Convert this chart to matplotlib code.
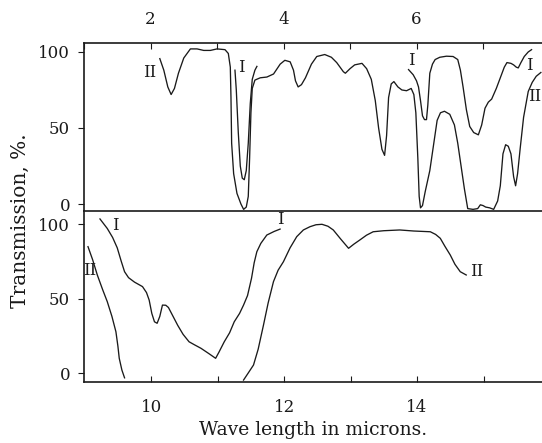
import numpy as np
import matplotlib.pyplot as plt

plt.rcParams["font.family"] = ["DejaVu Serif"]

# ---- top panel (2 - 8 microns) ----
top_II_x = [2.14, 2.20, 2.26, 2.31, 2.36, 2.42, 2.50, 2.60, 2.70, 2.80, 2.90,
            3.00, 3.12, 3.17, 3.20, 3.21, 3.22, 3.25, 3.30, 3.36, 3.40, 3.44,
            3.47, 3.49, 3.51, 3.53, 3.57, 3.65, 3.75, 3.85, 3.95, 4.02, 4.10,
            4.15, 4.18, 4.22, 4.27, 4.33, 4.42, 4.50, 4.62, 4.72, 4.80, 4.90,
            4.93, 5.00, 5.07, 5.18, 5.25, 5.32, 5.38, 5.43, 5.48, 5.52, 5.55,
            5.58, 5.62, 5.66, 5.72, 5.78, 5.85, 5.92, 5.96, 5.99, 6.02, 6.04,
            6.06, 6.09, 6.13, 6.20, 6.26, 6.31, 6.36, 6.42, 6.50, 6.57, 6.62,
            6.67, 6.72, 6.77, 6.85, 6.92, 6.96, 7.00, 7.04, 7.10, 7.16, 7.22,
            7.26, 7.30, 7.34, 7.38, 7.42, 7.46, 7.49, 7.52, 7.56, 7.61, 7.68,
            7.74, 7.80, 7.87]
top_II_y = [95.6, 88, 77, 72, 76, 86, 96, 102, 102, 101, 101,
            102, 101.5, 99, 90, 70, 40, 20, 7, 0, -3.5, -2,
            5, 30, 60, 76, 81.5, 83, 83.5, 85.5, 92, 94.5, 93.5,
            88, 81, 77, 78.5, 83, 92, 97, 98.3, 96.5, 93, 87,
            86, 89, 91.5, 92.5, 89, 82, 68, 50, 36, 32, 45,
            70, 79, 80.5, 77, 75, 74.5, 76, 72, 60, 30, 5,
            -2.5, -1, 8, 22, 40, 55, 60, 61, 59, 52, 40,
            25, 10, -3, -3.5, -3, -0.5, -1, -2, -2.5, -3.5, 2,
            12, 33, 39, 38, 33, 18, 12, 20, 37, 57, 74,
            80, 84, 86.5]

top_Ia_x = [3.27, 3.29, 3.32, 3.35, 3.38, 3.41, 3.44, 3.47, 3.50, 3.53, 3.57, 3.60]
top_Ia_y = [88, 75, 47, 25, 17, 16, 22, 40, 66, 82, 88, 90.5]

top_Ib_x = [5.88, 5.95, 6.00, 6.03, 6.06, 6.09, 6.12, 6.15, 6.17, 6.20, 6.24,
            6.28, 6.35, 6.45, 6.55, 6.62, 6.66, 6.70, 6.75, 6.80, 6.86, 6.93,
            6.98, 7.03, 7.08, 7.13, 7.20, 7.26, 7.32, 7.36, 7.42, 7.46, 7.50,
            7.53, 7.57, 7.62, 7.68, 7.73]
top_Ib_y = [88.4, 85, 81, 77, 68, 58, 55.5, 55.5, 65, 86, 92,
            95, 96.5, 97.2, 97, 95, 88, 77, 62, 51, 47, 45.5,
            52, 63, 67, 69, 76, 83, 90, 93, 92.5, 91.5, 90,
            89.5, 93, 97, 100, 101.5]

# ---- bottom panel (9 - 16 microns) ----
bot_I_x = [9.23, 9.34, 9.42, 9.49, 9.55, 9.60, 9.66, 9.75, 9.87, 9.93, 9.97,
           10.01, 10.05, 10.09, 10.13, 10.17, 10.22, 10.26, 10.33, 10.40, 10.48,
           10.57, 10.65, 10.75, 10.87, 10.97, 11.02, 11.10, 11.18, 11.25, 11.33,
           11.39, 11.45, 11.51, 11.55, 11.59, 11.65, 11.74, 11.85, 11.94]
bot_I_y = [103.4, 97, 91, 84, 75, 68, 64, 61, 58, 54, 49,
           40, 34.4, 33.4, 38, 45.6, 45.5, 44, 38, 32, 26,
           21, 19, 16.6, 13, 9.9, 14, 21, 27, 34.4, 40,
           45.6, 52, 63.6, 74, 81.4, 87, 92.6, 95, 96.6]

bot_IIa_x = [9.05, 9.12, 9.19, 9.27, 9.34, 9.41, 9.47, 9.50, 9.52, 9.56, 9.60]
bot_IIa_y = [84.8, 76, 65.8, 56, 47.9, 38, 27.7, 18, 9.9, 2, -3.2]

bot_IIb_x = [11.39, 11.46, 11.54, 11.61, 11.69, 11.76, 11.84, 11.91, 11.99,
             12.09, 12.19, 12.29, 12.39, 12.48, 12.57, 12.66, 12.74, 12.85,
             12.97, 13.05, 13.14, 13.24, 13.34, 13.50, 13.74, 13.95, 14.20,
             14.28, 14.35, 14.42, 14.50, 14.57, 14.65, 14.74]
bot_IIb_y = [-4.7, 0, 5.4, 16, 32.2, 47, 61.3, 69, 74.7,
             84, 91.5, 96, 98.2, 99.5, 99.8, 98.5, 96, 90,
             83.7, 86.5, 89.3, 92.5, 94.8, 95.5, 96, 95.3, 94.8,
             93, 90.4, 85, 79.2, 73, 68, 65.8]

yticks = [0, 50, 100]

fig = plt.figure(figsize=(5.42, 4.43), dpi=100)
ax1 = fig.add_axes([0.155, 0.5226, 0.845, 0.3804])
ax2 = fig.add_axes([0.155, 0.1377, 0.845, 0.3849])

lc = "#1a1a1a"
lw = 0.95
fs = 12

ax1.plot(top_II_x, top_II_y, color=lc, lw=lw)
ax1.plot(top_Ia_x, top_Ia_y, color=lc, lw=lw)
ax1.plot(top_Ib_x, top_Ib_y, color=lc, lw=lw)
ax1.set_xlim(1, 7.887)
ax1.set_ylim(-4.9, 105.9)

ax2.plot(bot_I_x, bot_I_y, color=lc, lw=lw)
ax2.plot(bot_IIa_x, bot_IIa_y, color=lc, lw=lw)
ax2.plot(bot_IIb_x, bot_IIb_y, color=lc, lw=lw)
ax2.set_xlim(8.99, 15.88)
ax2.set_ylim(-6.0, 108.4)

for ax in (ax1, ax2):
    ax.spines["right"].set_visible(False)
    for s in ax.spines.values():
        s.set_linewidth(1.2)
        s.set_color(lc)
    ax.set_yticks(yticks)
    ax.tick_params(axis="y", direction="out", length=4, width=0.8,
                   labelsize=fs, pad=6, colors=lc)

# top panel: x ticks on top
ax1.xaxis.tick_top()
ax1.set_xticks([2, 4, 6])
ax1.set_xticks([1, 3, 5, 7], minor=True)
ax1.tick_params(axis="x", which="both", direction="in", length=4, width=0.8,
                labelsize=fs, pad=11, colors=lc)
ax1.spines["bottom"].set_visible(False)

ax2.set_xticks([10, 12, 14])
ax2.set_xticks([11, 13, 15], minor=True)
ax2.tick_params(axis="x", which="both", direction="in", length=4, width=0.8,
                labelsize=fs, pad=12, colors=lc)

# curve labels
ax1.text(1.99, 86.8, "II", fontsize=fs, ha="center", va="center", color=lc)
ax1.text(3.37, 90, "I", fontsize=fs, ha="center", va="center", color=lc)
ax1.text(5.92, 94.7, "I", fontsize=fs, ha="center", va="center", color=lc)
ax1.text(7.69, 91.4, "I", fontsize=fs, ha="center", va="center", color=lc)
ax1.text(7.875, 71, "II", fontsize=fs, ha="right", va="center", color=lc)

ax2.text(9.46, 99.3, "I", fontsize=fs, ha="center", va="center", color=lc)
ax2.text(9.07, 69.1, "II", fontsize=fs, ha="center", va="center", color=lc)
ax2.text(11.94, 103, "I", fontsize=fs, ha="center", va="center", color=lc)
ax2.text(14.8, 68, "II", fontsize=fs, ha="left", va="center", color=lc)

ax2.set_xlabel("Wave length in microns.", fontsize=13.5, labelpad=4, color=lc)
fig.text(0.037, 0.501, "Transmission, %.", rotation=90, fontsize=14.5,
         ha="center", va="center", color=lc)

fig.savefig("out.png", dpi=100)
